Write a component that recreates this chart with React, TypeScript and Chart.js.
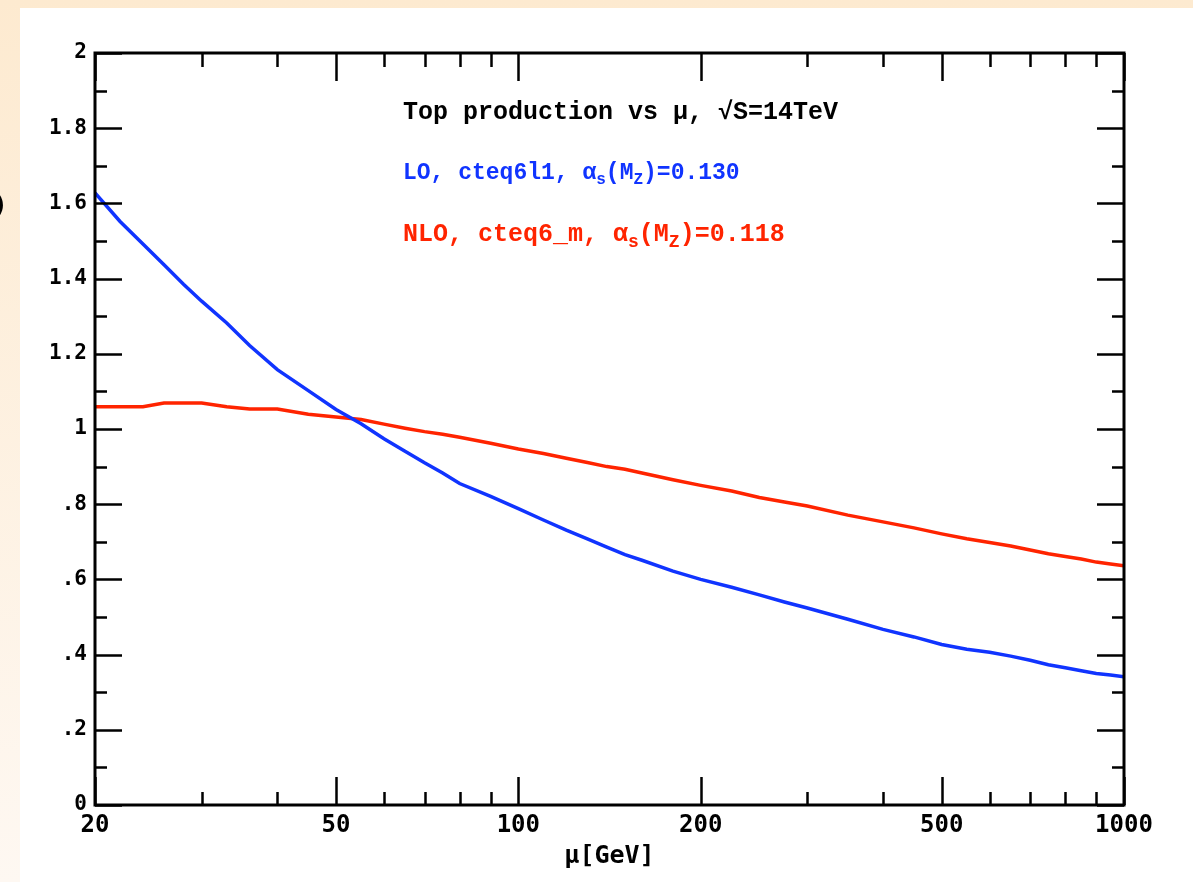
import React, { useEffect, useRef } from 'react';
import { Chart, registerables } from 'chart.js';

Chart.register(...registerables);

// scale mu [GeV]
const MU = [20, 22, 24, 26, 28, 30, 33, 36, 40, 45, 50, 55, 60, 65, 70, 75, 80, 90, 100, 110, 120, 130, 140, 150, 160, 180, 200, 225, 250, 275, 300, 350, 400, 450, 500, 550, 600, 650, 700, 750, 800, 850, 900, 950, 1000];
// LO, cteq6l1
const LO = [1.628, 1.552, 1.492, 1.437, 1.385, 1.34, 1.282, 1.222, 1.158, 1.102, 1.052, 1.014, 0.974, 0.941, 0.91, 0.883, 0.855, 0.821, 0.788, 0.758, 0.731, 0.708, 0.686, 0.666, 0.651, 0.622, 0.6, 0.579, 0.559, 0.54, 0.524, 0.494, 0.467, 0.447, 0.427, 0.414, 0.406, 0.396, 0.385, 0.373, 0.365, 0.357, 0.35, 0.346, 0.341];
// NLO, cteq6_m
const NLO = [1.059, 1.059, 1.059, 1.069, 1.069, 1.069, 1.059, 1.053, 1.053, 1.039, 1.032, 1.025, 1.013, 1.002, 0.993, 0.986, 0.978, 0.962, 0.947, 0.935, 0.922, 0.911, 0.9, 0.893, 0.883, 0.865, 0.85, 0.835, 0.818, 0.806, 0.795, 0.771, 0.753, 0.737, 0.721, 0.708, 0.698, 0.689, 0.678, 0.668, 0.661, 0.654, 0.646, 0.641, 0.636];

const X_TICKS = [20, 50, 100, 200, 500, 1000];
const X_MINOR = [30, 40, 60, 70, 80, 90, 300, 400, 600, 700, 800, 900];
const Y_MAJOR = [0, 0.2, 0.4, 0.6, 0.8, 1, 1.2, 1.4, 1.6, 1.8, 2];
const Y_MINOR = [0.1, 0.3, 0.5, 0.7, 0.9, 1.1, 1.3, 1.5, 1.7, 1.9];

const BLUE = '#1034ff';
const RED = '#ff2400';
const TICK_FONT = 'DejaVu Sans Mono';
const TEXT_FONT = 'Liberation Mono';

type Seg = { t: string; sub?: boolean };

function drawRich(ctx: CanvasRenderingContext2D, x: number, y: number, segs: Seg[], size: number, color: string) {
  ctx.fillStyle = color;
  ctx.textBaseline = 'middle';
  ctx.textAlign = 'left';
  let cx = x;
  for (const s of segs) {
    const fs = s.sub ? Math.round(size * 0.7) : size;
    ctx.font = `bold ${fs}px "${TEXT_FONT}"`;
    const dy = s.sub ? size * 0.3 : 0;
    ctx.fillText(s.t, cx, y + dy);
    cx += ctx.measureText(s.t).width;
  }
}

const framePlugin = {
  id: 'frame',
  afterDatasetsDraw(chart: any) {
    const { ctx, chartArea, scales } = chart;
    const { left, right, top, bottom } = chartArea;
    const x = scales.x;
    const y = scales.y;
    ctx.save();
    ctx.strokeStyle = '#000';
    ctx.lineWidth = 2.5;
    ctx.beginPath();
    for (const v of Y_MAJOR) {
      const py = Math.round(y.getPixelForValue(v)) + 0.5;
      ctx.moveTo(left, py); ctx.lineTo(left + 27, py);
      ctx.moveTo(right, py); ctx.lineTo(right - 27, py);
    }
    for (const v of Y_MINOR) {
      const py = Math.round(y.getPixelForValue(v)) + 0.5;
      ctx.moveTo(left, py); ctx.lineTo(left + 12, py);
      ctx.moveTo(right, py); ctx.lineTo(right - 12, py);
    }
    for (const v of X_TICKS) {
      const px = Math.round(x.getPixelForValue(v)) + 0.5;
      ctx.moveTo(px, bottom); ctx.lineTo(px, bottom - 28);
      ctx.moveTo(px, top); ctx.lineTo(px, top + 28);
    }
    for (const v of X_MINOR) {
      const px = Math.round(x.getPixelForValue(v)) + 0.5;
      ctx.moveTo(px, bottom); ctx.lineTo(px, bottom - 13);
      ctx.moveTo(px, top); ctx.lineTo(px, top + 14);
    }
    ctx.stroke();
    ctx.lineWidth = 3;
    ctx.strokeRect(left, top, right - left, bottom - top);

    // annotations
    drawRich(ctx, left + 308, top + 60, [{ t: 'Top production vs μ, √S=14TeV' }], 25, '#000');
    drawRich(ctx, left + 308, top + 120, [
      { t: 'LO, cteq6l1, α' }, { t: 's', sub: true }, { t: '(M' }, { t: 'Z', sub: true }, { t: ')=0.130' },
    ], 23, BLUE);
    drawRich(ctx, left + 308, top + 182, [
      { t: 'NLO, cteq6_m, α' }, { t: 's', sub: true }, { t: '(M' }, { t: 'Z', sub: true }, { t: ')=0.118' },
    ], 25, RED);

    // cut-off fragment of the y-axis label at the far left
    ctx.fillStyle = '#000';
    ctx.font = `bold 24px "${TICK_FONT}"`;
    ctx.textAlign = 'left';
    ctx.textBaseline = 'middle';
    ctx.fillText(')', -7, y.getPixelForValue(1.59));
    ctx.restore();
  },
};

const fmtY = (v: number) => {
  let s = (Math.round(v * 10) / 10).toFixed(1);
  if (s.endsWith('.0')) s = s.slice(0, -2);
  if (s.startsWith('0.')) s = s.slice(1);
  return s;
};

export default function App() {
  const ref = useRef<HTMLCanvasElement | null>(null);
  useEffect(() => {
    document.body.style.margin = '0';
    const canvas = ref.current;
    if (!canvas) return;
    const chart = new Chart(canvas, {
      type: 'line',
      data: {
        datasets: [
          {
            label: 'LO, cteq6l1',
            data: MU.map((m, i) => ({ x: m, y: LO[i] })),
            borderColor: BLUE,
            borderWidth: 3.5,
            pointRadius: 0,
            tension: 0,
          },
          {
            label: 'NLO, cteq6_m',
            data: MU.map((m, i) => ({ x: m, y: NLO[i] })),
            borderColor: RED,
            borderWidth: 3.5,
            pointRadius: 0,
            tension: 0,
          },
        ],
      },
      options: {
        animation: false,
        responsive: false,
        maintainAspectRatio: false,
        layout: { padding: { left: 0, right: 69, top: 53, bottom: 0 } },
        plugins: { legend: { display: false }, tooltip: { enabled: false }, title: { display: false } },
        scales: {
          x: {
            type: 'logarithmic',
            min: 20,
            max: 1000,
            grid: { display: false, drawTicks: false, tickLength: 0 },
            border: { display: false },
            afterBuildTicks: (scale: any) => {
              scale.ticks = X_TICKS.map((v) => ({ value: v }));
            },
            afterFit: (scale: any) => {
              scale.height = 77;
            },
            ticks: {
              autoSkip: false,
              maxRotation: 0,
              padding: 6,
              color: '#000',
              font: { family: TICK_FONT, size: 24, weight: 'bold' },
              callback: (v: any) => String(v),
            },
            title: {
              display: true,
              text: 'μ[GeV]',
              color: '#000',
              font: { family: TICK_FONT, size: 25, weight: 'bold' },
              padding: { top: 0, bottom: 11 },
            },
          },
          y: {
            type: 'linear',
            min: 0,
            max: 2,
            grid: { display: false, drawTicks: false, tickLength: 0 },
            border: { display: false },
            afterFit: (scale: any) => {
              scale.width = 95;
            },
            ticks: {
              stepSize: 0.2,
              padding: 8,
              color: '#000',
              font: { family: TICK_FONT, size: 21, weight: 'bold' },
              callback: (v: any) => fmtY(Number(v)),
            },
          },
        },
      },
      plugins: [framePlugin],
    } as any);
    return () => chart.destroy();
  }, []);

  return (
    <div
      style={{
        position: 'relative',
        width: 1193,
        height: 882,
        overflow: 'hidden',
        background: 'linear-gradient(to bottom, #fdead0, #fef8f2)',
      }}
    >
      <div style={{ position: 'absolute', left: 20, top: 8, width: 1173, height: 874, background: '#ffffff' }} />
      <canvas ref={ref} width={1193} height={882} style={{ position: 'absolute', left: 0, top: 0, width: 1193, height: 882 }} />
    </div>
  );
}
